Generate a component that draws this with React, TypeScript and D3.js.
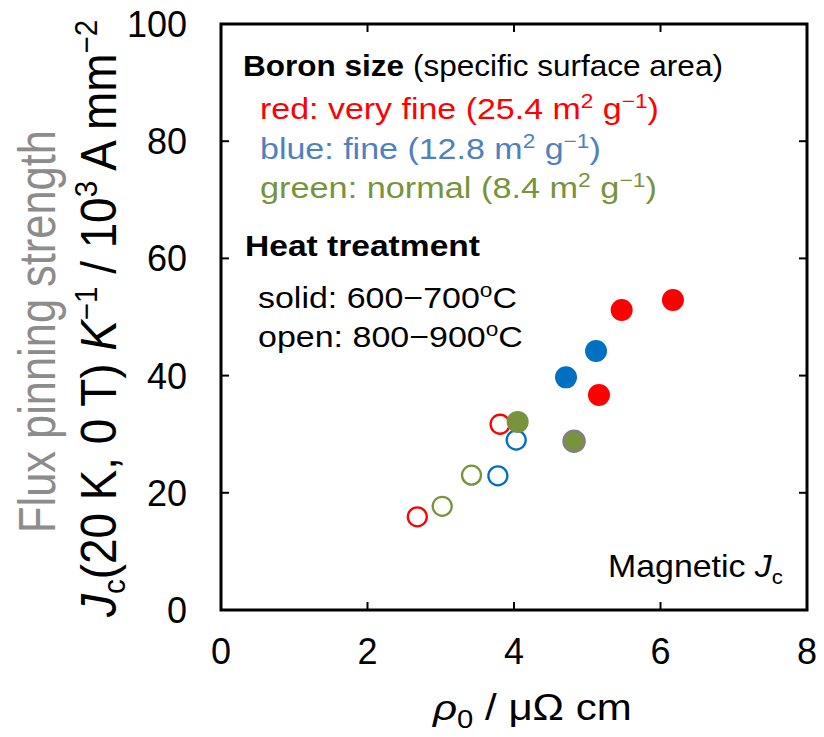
import React, { useEffect, useLayoutEffect, useRef, useState } from "react";
import * as d3 from "d3";

// ---- data ----
const xTicks = [0, 2, 4, 6, 8];
const yTicks = [0, 20, 40, 60, 80, 100];

// [rho0, Jc/K]
const redSolid: [number, number][] = [[6.17, 52.9], [5.47, 51.2], [5.16, 36.7]];
const blueSolid: [number, number][] = [[5.12, 44.2], [4.71, 39.7]];
const greenSolid: [number, number][] = [[4.05, 32.1]];
const greenSolidGrayEdge: [number, number][] = [[4.82, 28.8]];
const redOpen: [number, number][] = [[3.81, 31.7], [2.68, 15.9]];
const blueOpen: [number, number][] = [[4.03, 29.0], [3.78, 22.9]];
const greenOpen: [number, number][] = [[3.42, 23.0], [3.02, 17.7]];

const RED = "#FF0000";
const BLUE = "#0070C0";
const GREEN = "#77933C";
const BLUE_TXT = "#4F81BD";
const FONT = "'Liberation Sans', Arial, sans-serif";

type FitProps = {
  x: number; y: number; width: number; rot?: boolean; cross?: number;
  fontSize: number; fill?: string; fontWeight?: string; children: React.ReactNode;
};

function Fit({ x, y, width, rot, cross = 1, fontSize, fill = "#000", fontWeight, children }: FitProps) {
  const ref = useRef<SVGTextElement>(null);
  const [k, setK] = useState(1);
  useLayoutEffect(() => {
    if (ref.current) {
      const w = ref.current.getBBox().width;
      if (w > 0) setK(width / w);
    }
  }, [width]);
  return (
    <g transform={`translate(${x},${y})${rot ? " rotate(-90)" : ""}`}>
      <g transform={`scale(${k},${cross})`}>
        <text ref={ref} x={0} y={0} fontSize={fontSize} fill={fill} fontWeight={fontWeight}>{children}</text>
      </g>
    </g>
  );
}

export default function App() {
  useEffect(() => {
    document.body.style.margin = "0";
  }, []);

  const W = 824, H = 737;
  const L = 221, R = 807, T = 24, B = 610;
  const x = d3.scaleLinear().domain([0, 8]).range([L, R]);
  const y = d3.scaleLinear().domain([0, 100]).range([B, T]);
  const tl = 8;

  const filled = (pts: [number, number][], c: string, stroke?: string) =>
    pts.map((p, i) => (
      <circle key={c + i + (stroke || "")} cx={x(p[0])} cy={y(p[1])} r={stroke ? 10.5 : 11}
        fill={c} stroke={stroke || "none"} strokeWidth={stroke ? 2.5 : 0} />
    ));
  const open = (pts: [number, number][], c: string) =>
    pts.map((p, i) => (
      <circle key={"o" + c + i} cx={x(p[0])} cy={y(p[1])} r={9.5} fill="none" stroke={c} strokeWidth={2.3} />
    ));

  const unit = (
    <>
      m<tspan dy={-11} fontSize={20}>2</tspan><tspan dy={11}> g</tspan><tspan dy={-11} fontSize={20}>−1</tspan><tspan dy={11}>)</tspan>
    </>
  );

  return (
    <svg width={W} height={H} style={{ display: "block", background: "#fff" }} fontFamily={FONT}>
      {/* ticks */}
      {xTicks.filter((t) => t > 0 && t < 8).map((t) => (
        <g key={"xt" + t} stroke="#000" strokeWidth={2}>
          <line x1={x(t)} x2={x(t)} y1={B} y2={B - tl} />
          <line x1={x(t)} x2={x(t)} y1={T} y2={T + tl} />
        </g>
      ))}
      {yTicks.filter((t) => t > 0 && t < 100).map((t) => (
        <g key={"yt" + t} stroke="#000" strokeWidth={2}>
          <line x1={L} x2={L + tl} y1={y(t)} y2={y(t)} />
          <line x1={R} x2={R - tl} y1={y(t)} y2={y(t)} />
        </g>
      ))}
      <rect x={L} y={T} width={R - L} height={B - T} fill="none" stroke="#000" strokeWidth={3} />

      {/* tick labels */}
      {xTicks.map((t) => (
        <text key={"xl" + t} x={x(t)} y={664} textAnchor="middle" fontSize={36}>{t}</text>
      ))}
      {yTicks.map((t) => (
        <text key={"yl" + t} x={187} y={y(t) + 13} textAnchor="end" fontSize={36}>{t}</text>
      ))}

      {/* axis titles */}
      <Fit x={433} y={720} width={200} fontSize={36} cross={1.0}>
        <tspan fontStyle="italic">ρ</tspan>
        <tspan dy={8} fontSize={25}>0</tspan>
        <tspan dy={-8}> / μΩ cm</tspan>
      </Fit>

      <Fit x={116} y={617} rot width={598} fontSize={45} cross={1.09}>
        <tspan fontStyle="italic">J</tspan>
        <tspan dy={8} fontSize={29}>c</tspan>
        <tspan dy={-8}>(20 K, 0 T) </tspan>
        <tspan fontStyle="italic">K</tspan>
        <tspan dy={-17} fontSize={29}>−1</tspan>
        <tspan dy={17}> / 10</tspan>
        <tspan dy={-17} fontSize={29}>3</tspan>
        <tspan dy={17}> A mm</tspan>
        <tspan dy={-17} fontSize={29}>−2</tspan>
      </Fit>

      <Fit x={55} y={533} rot width={403} fontSize={46} cross={1.12} fill="#8C8C8C">
        Flux pinning strength
      </Fit>

      {/* legend text */}
      <Fit x={243} y={76} width={480} fontSize={30}>
        <tspan fontWeight="bold">Boron size</tspan>
        <tspan> (specific surface area)</tspan>
      </Fit>
      <Fit x={260} y={119} width={399} fontSize={30} fill={RED}>
        red: very fine (25.4 {unit}
      </Fit>
      <Fit x={260} y={159} width={341} fontSize={30} fill={BLUE_TXT}>
        blue: fine (12.8 {unit}
      </Fit>
      <Fit x={260} y={198} width={397} fontSize={30} fill={GREEN}>
        green: normal (8.4 {unit}
      </Fit>

      <Fit x={245} y={256} width={235} fontSize={30} fontWeight="bold">Heat treatment</Fit>
      <Fit x={258} y={308} width={259} fontSize={30}>
        solid: 600−700<tspan dy={-11} fontSize={20}>o</tspan><tspan dy={11}>C</tspan>
      </Fit>
      <Fit x={258} y={347} width={265} fontSize={30}>
        open: 800−900<tspan dy={-11} fontSize={20}>o</tspan><tspan dy={11}>C</tspan>
      </Fit>

      <Fit x={608} y={577} width={175} fontSize={32}>
        Magnetic <tspan fontStyle="italic">J</tspan><tspan dy={7} fontSize={21}>c</tspan>
      </Fit>

      {/* markers */}
      {open(redOpen, RED)}
      {open(blueOpen, BLUE)}
      {open(greenOpen, GREEN)}
      {filled(redSolid, RED)}
      {filled(blueSolid, BLUE)}
      {filled(greenSolid, GREEN)}
      {filled(greenSolidGrayEdge, GREEN, "#808080")}
    </svg>
  );
}
